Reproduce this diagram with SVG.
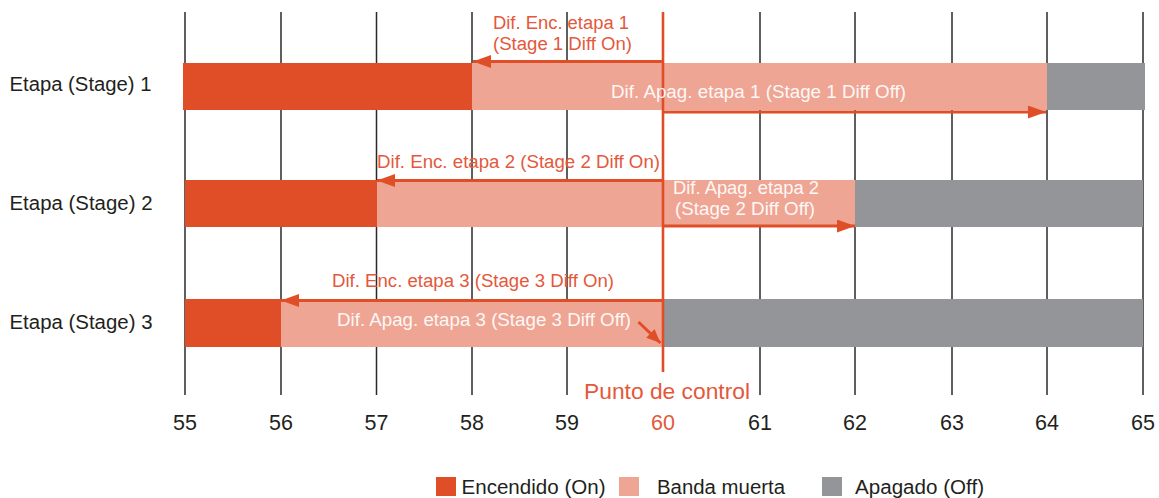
<svg xmlns="http://www.w3.org/2000/svg" width="1159" height="498" viewBox="0 0 1159 498">
<style>
.grid{stroke:#2a2a2a;stroke-width:1.5}
.on{fill:#e04e27}
.dead{fill:#efa593}
.off{fill:#939598}
.lbl{font-family:"Liberation Sans",Arial,sans-serif;font-size:20px;fill:#231f20}
.num{font-family:"Liberation Sans",Arial,sans-serif;font-size:21.5px;fill:#231f20;text-anchor:middle}
.ann{font-family:"Liberation Sans",Arial,sans-serif;font-size:18px;fill:#e4583b}
.annw{font-family:"Liberation Sans",Arial,sans-serif;font-size:18px;fill:#ffffff;opacity:0.92}
.arr{stroke:#e04e27;stroke-width:3;fill:none}
.leg{font-family:"Liberation Sans",Arial,sans-serif;font-size:20px;fill:#231f20}
</style>
<defs>
<marker id="ah" markerUnits="userSpaceOnUse" markerWidth="18" markerHeight="13" refX="18" refY="6.5" orient="auto">
<path d="M0,0 L18,6.5 L0,13 z" fill="#e04e27"/>
</marker>
<marker id="ahs" markerUnits="userSpaceOnUse" markerWidth="14" markerHeight="12" refX="14" refY="6" orient="auto">
<path d="M0,0 L14,6 L0,12 z" fill="#e04e27"/>
</marker>
</defs>
<rect width="1159" height="498" fill="#ffffff"/>
<g id="grid">
<line class="grid" x1="185" y1="12" x2="185" y2="395"/>
<line class="grid" x1="281" y1="12" x2="281" y2="395"/>
<line class="grid" x1="376.5" y1="12" x2="376.5" y2="395"/>
<line class="grid" x1="472" y1="12" x2="472" y2="395"/>
<line class="grid" x1="567" y1="12" x2="567" y2="395"/>
<line class="grid" x1="760" y1="12" x2="760" y2="395"/>
<line class="grid" x1="855" y1="12" x2="855" y2="395"/>
<line class="grid" x1="952" y1="12" x2="952" y2="395"/>
<line class="grid" x1="1047" y1="12" x2="1047" y2="395"/>
<line class="grid" x1="1143" y1="12" x2="1143" y2="395"/>
</g>
<g id="stage1">
<rect class="on" x="183" y="63" width="289" height="47"/>
<rect class="dead" x="472" y="63" width="575" height="47"/>
<rect class="off" x="1047" y="63" width="98" height="47"/>
<text class="lbl" x="9.5" y="91" textLength="142" lengthAdjust="spacingAndGlyphs">Etapa (Stage) 1</text>
</g>
<g id="stage2">
<rect class="on" x="185" y="180" width="192" height="47"/>
<rect class="dead" x="377" y="180" width="478" height="47"/>
<rect class="off" x="855" y="180" width="288" height="47"/>
<text class="lbl" x="9.5" y="210" textLength="143" lengthAdjust="spacingAndGlyphs">Etapa (Stage) 2</text>
</g>
<g id="stage3">
<rect class="on" x="185" y="299" width="96" height="48"/>
<rect class="dead" x="281" y="299" width="381" height="48"/>
<rect class="off" x="662" y="299" width="481" height="48"/>
<text class="lbl" x="9.5" y="329" textLength="143" lengthAdjust="spacingAndGlyphs">Etapa (Stage) 3</text>
</g>
<g id="control-point">
<line x1="663" y1="12" x2="663" y2="372" stroke="#e04e27" stroke-width="2.6"/>
<text class="ann" x="584" y="399" textLength="166" lengthAdjust="spacingAndGlyphs" style="font-size:22px">Punto de control</text>
</g>
<g id="connectors">
<line class="arr" x1="663" y1="61.5" x2="473" y2="61.5" marker-end="url(#ah)"/>
<line class="arr" x1="663" y1="112" x2="1046" y2="112" marker-end="url(#ah)"/>
<line class="arr" x1="663" y1="180.5" x2="377" y2="180.5" marker-end="url(#ah)"/>
<line class="arr" x1="663" y1="226" x2="855" y2="226" marker-end="url(#ah)"/>
<line class="arr" x1="663" y1="300.5" x2="281" y2="300.5" marker-end="url(#ah)"/>
<line class="arr" x1="638.5" y1="322" x2="660.5" y2="343" marker-end="url(#ahs)"/>
</g>
<g id="labels">
<text class="ann" x="493" y="29" textLength="136" lengthAdjust="spacingAndGlyphs">Dif. Enc. etapa 1</text>
<text class="ann" x="493" y="50" textLength="139" lengthAdjust="spacingAndGlyphs">(Stage 1 Diff On)</text>
<text class="annw" x="611" y="98" textLength="295" lengthAdjust="spacingAndGlyphs">Dif. Apag. etapa 1 (Stage 1 Diff Off)</text>
<text class="ann" x="377" y="168" textLength="283" lengthAdjust="spacingAndGlyphs">Dif. Enc. etapa 2 (Stage 2 Diff On)</text>
<text class="annw" x="673" y="194" textLength="146" lengthAdjust="spacingAndGlyphs">Dif. Apag. etapa 2</text>
<text class="annw" x="675" y="215" textLength="140" lengthAdjust="spacingAndGlyphs">(Stage 2 Diff Off)</text>
<text class="ann" x="332" y="287" textLength="282" lengthAdjust="spacingAndGlyphs">Dif. Enc. etapa 3 (Stage 3 Diff On)</text>
<text class="annw" x="337" y="326" textLength="294" lengthAdjust="spacingAndGlyphs">Dif. Apag. etapa 3 (Stage 3 Diff Off)</text>
</g>
<g id="axis">
<text class="num" x="185" y="430">55</text>
<text class="num" x="281" y="430">56</text>
<text class="num" x="376.5" y="430">57</text>
<text class="num" x="472" y="430">58</text>
<text class="num" x="567" y="430">59</text>
<text class="num" x="663" y="430" style="fill:#e4583b">60</text>
<text class="num" x="760" y="430">61</text>
<text class="num" x="855" y="430">62</text>
<text class="num" x="952" y="430">63</text>
<text class="num" x="1047" y="430">64</text>
<text class="num" x="1143" y="430">65</text>
</g>
<g id="legend">
<rect class="on" x="436" y="477" width="20" height="19"/>
<text class="leg" x="461.5" y="494" textLength="144" lengthAdjust="spacingAndGlyphs">Encendido (On)</text>
<rect class="dead" x="619" y="477" width="20" height="19"/>
<text class="leg" x="657" y="494" textLength="128" lengthAdjust="spacingAndGlyphs">Banda muerta</text>
<rect class="off" x="822" y="477" width="20" height="19"/>
<text class="leg" x="855" y="494" textLength="129" lengthAdjust="spacingAndGlyphs">Apagado (Off)</text>
</g>
</svg>
